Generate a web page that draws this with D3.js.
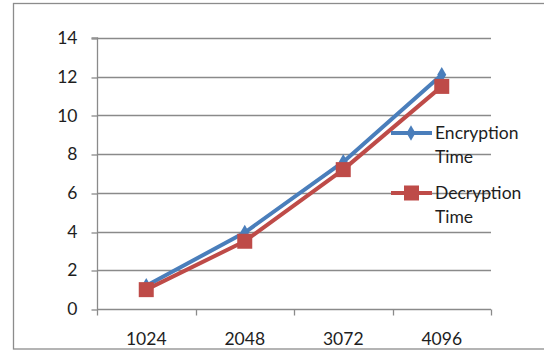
<!DOCTYPE html>
<html><head><meta charset="utf-8">
<script src="https://cdn.jsdelivr.net/npm/d3@7"></script>
<style>body{margin:0;background:#fff}svg{display:block}</style>
</head><body>
<svg id="c" width="544" height="351"></svg>
<script>
const categories = ["1024","2048","3072","4096"];
const encryption = [1.2, 3.95, 7.6, 12.1];
const decryption = [1.0, 3.5, 7.2, 11.5];
const yTicks = [0,2,4,6,8,10,12,14];
const seriesNames = ["Encryption Time","Decryption Time"];

const svg = d3.select("#c");
const font = "Lato, 'Open Sans', sans-serif";
const fs = 17.5;
const L = 97, R = 491, T = 38, B = 309;
const x = d3.scaleBand().domain(categories).range([L, R]);
const y = d3.scaleLinear().domain([0,14]).range([B, T]);
const grid = "#8a8a8a";

// outer border
svg.append("rect").attr("x",13.5).attr("y",3.5).attr("width",540).attr("height",345.5)
  .attr("fill","none").attr("stroke","#8c8c8c").attr("stroke-width",1.3);

// gridlines
svg.append("g").selectAll("line").data(yTicks.filter(d=>d>0)).join("line")
  .attr("x1",L).attr("x2",R).attr("y1",d=>Math.round(y(d))+0.5).attr("y2",d=>Math.round(y(d))+0.5)
  .attr("stroke",grid).attr("stroke-width",1.3);

// y axis
const ya = svg.append("g").attr("transform",`translate(${L+0.5},0)`)
  .call(d3.axisLeft(y).tickValues(yTicks).tickSize(6).tickPadding(14).tickFormat(d3.format("d")));
ya.select(".domain").attr("stroke",grid).attr("stroke-width",1.3).attr("d",`M-6,${T}H0V${B}`);
ya.selectAll(".tick line").attr("stroke",grid).attr("stroke-width",1.3);
ya.selectAll(".tick line").attr("transform",d=>`translate(0,${Math.round(y(d))+0.5-y(d)})`);
ya.selectAll("text").attr("font-family",font).attr("font-size",fs).attr("fill","#1e1e1e");

// x axis
const xa = svg.append("g").attr("transform",`translate(0,${B+0.5})`)
  .call(d3.axisBottom(x).tickSize(0).tickPadding(23));
xa.select(".domain").attr("stroke",grid).attr("stroke-width",1.3).attr("d",`M${L},0H${R}`);
xa.selectAll("text").attr("font-family",font).attr("font-size",fs).attr("fill","#1e1e1e");
const bounds = categories.map(c=>x(c)).concat([R]);
xa.append("g").selectAll("line").data(bounds).join("line")
  .attr("x1",d=>Math.round(d)+0.5).attr("x2",d=>Math.round(d)+0.5).attr("y1",0).attr("y2",6)
  .attr("stroke",grid).attr("stroke-width",1.3);

const cx = c => x(c) + x.bandwidth()/2;
const line = d3.line().x((d,i)=>cx(categories[i])).y(d=>y(d));
const blue = "#4a7ebb", red = "#be4b48";

// encryption
svg.append("path").datum(encryption).attr("d",line).attr("fill","none")
  .attr("stroke",blue).attr("stroke-width",4).attr("stroke-linejoin","round");
const diamond = d3.symbol().type(d3.symbolDiamond).size(70);
svg.append("g").selectAll("path").data(encryption).join("path")
  .attr("transform",(d,i)=>`translate(${cx(categories[i])},${y(d)})`)
  .attr("d",diamond).attr("fill",blue);

// decryption
svg.append("path").datum(decryption).attr("d",line).attr("fill","none")
  .attr("stroke",red).attr("stroke-width",4).attr("stroke-linejoin","round");
svg.append("g").selectAll("rect").data(decryption).join("rect")
  .attr("x",(d,i)=>cx(categories[i])-7.5).attr("y",d=>y(d)-7.5)
  .attr("width",15).attr("height",15).attr("fill",red);

// legend
const leg = svg.append("g");
const items = [{name:seriesNames[0], color:blue, yy:133, type:"d"},{name:seriesNames[1], color:red, yy:193, type:"s"}];
items.forEach(it=>{
  leg.append("line").attr("x1",391).attr("x2",432).attr("y1",it.yy).attr("y2",it.yy)
    .attr("stroke",it.color).attr("stroke-width",4);
  if(it.type==="d"){
    leg.append("path").attr("transform",`translate(411,${it.yy})`).attr("d",diamond).attr("fill",it.color);
  } else {
    leg.append("rect").attr("x",404).attr("y",it.yy-7.5).attr("width",15).attr("height",15).attr("fill",it.color);
  }
  const words = it.name.split(" ");
  const t = leg.append("text").attr("font-family",font).attr("font-size",fs).attr("fill","#1e1e1e");
  t.append("tspan").attr("x",435).attr("y",it.yy+6).text(words[0]);
  t.append("tspan").attr("x",435).attr("y",it.yy+30).text(words[1]);
});
</script>
</body></html>
